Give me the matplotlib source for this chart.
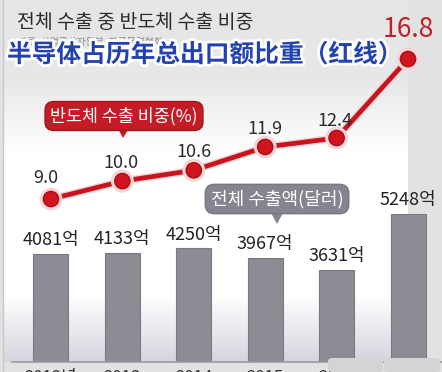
import numpy as np
import matplotlib.pyplot as plt
import matplotlib.patheffects as pe
from matplotlib.patches import Polygon, FancyBboxPatch
from matplotlib.colors import LinearSegmentedColormap

years = ['2012년', '2013', '2014', '2015', '2016', '2017']
exports = [4081, 4133, 4250, 3967, 3631, 5248]          # 억 달러
export_labels = ['4081억', '4133억', '4250억', '3967억', '3631억', '5248억']
share = [9.0, 10.0, 10.6, 11.9, 12.4, 16.8]             # 반도체 비중 (%)

W, H = 442, 372
KR = ['Noto Sans CJK KR', 'DejaVu Sans']


def fx(x):
    return x / W


def fy(y):
    return 1 - y / H


fig = plt.figure(figsize=(W / 100, H / 100), dpi=100, facecolor='#e2e2e2')

# background panel with vertical gradient (gray top -> white -> lavender near baseline)
bg = fig.add_axes([fx(4), fy(362), fx(408 - 4), 362 / H], zorder=0)
cmap = LinearSegmentedColormap.from_list(
    'bg', [(0, '#e6e6e6'), (0.22, '#e8e8e8'), (0.42, '#ffffff'),
           (0.82, '#ffffff'), (1.0, '#d6d5df')])
bg.imshow(np.linspace(0, 1, 200).reshape(-1, 1), aspect='auto', cmap=cmap,
          extent=[0, 1, 1, 0])
bg.set_axis_off()

# bars
ax = fig.add_axes([fx(12), fy(362), fx(W - 12), 362 / H], zorder=1)
ax.patch.set_alpha(0)
x = np.arange(len(years))
ax.bar(x, exports, width=0.49, color='#8d8c95', edgecolor='#7a7982',
       linewidth=0.8)
ax.set_xlim(-0.546, 5.476)
ax.set_ylim(970, 11430)
for xi, v, lab in zip(x, exports, export_labels):
    ax.annotate(lab, (xi, v), xytext=(0, 10), textcoords='offset points',
                ha='center', va='center', fontsize=13, color='#222222',
                family=KR)
ax.set_xticks(x)
ax.set_xticklabels(years, family=KR, fontsize=12, color='#333333')
ax.tick_params(length=0, pad=5)
ax.set_yticks([])
for s in ['top', 'right', 'left']:
    ax.spines[s].set_visible(False)
ax.spines['bottom'].set_color('#9a9aa0')
ax.spines['bottom'].set_linewidth(1.2)

# line for semiconductor share
ax2 = ax.twinx()
ax2.set_ylim(-0.08, 20.09)
ax2.plot(x, share, color='#c8141e', linewidth=3.4, marker='o', markersize=11,
         markerfacecolor='#d0141e', markeredgecolor='#a80f18', markeredgewidth=1,
         path_effects=[pe.Stroke(linewidth=5.5, foreground='#f4d6d8'), pe.Normal()],
         zorder=3)
offsets = [(-4, 15), (-1, 13), (0, 13), (0, 13), (-1, 12)]
for xi, v, off in zip(x[:-1], share[:-1], offsets):
    ax2.annotate(f'{v:.1f}', (xi, v), xytext=off,
                 textcoords='offset points', ha='center', va='center',
                 fontsize=13, color='#2a2a2a', family=KR)
ax2.annotate(f'{share[-1]:.1f}', (x[-1], share[-1]), xytext=(0, 21),
             textcoords='offset points', ha='center', va='center',
             fontsize=19, color='#c0202a', family=KR)
ax2.set_yticks([])
for s in ['top', 'right', 'left', 'bottom']:
    ax2.spines[s].set_visible(False)

# titles
fig.text(fx(17), fy(22), '전체 수출 중 반도체 수출 비중', family=KR, fontsize=14,
         color='#2b2b2b', va='center', ha='left')
fig.text(fx(18), fy(42), '자료: 산업통상자원부, 한국무역협회', family=KR, fontsize=7,
         color='#8a8a8a', va='center', ha='left')
fig.text(fx(7), fy(55), '半导体占历年总出口额比重（红线）',
         family=['Noto Sans CJK SC', 'DejaVu Sans'], fontsize=17.8, weight='heavy',
         color='#2342b0', va='center', ha='left', zorder=5,
         path_effects=[pe.withStroke(linewidth=4, foreground='white')])

# callout boxes
fig.text(fx(124), fy(116), '반도체 수출 비중(%)', family=KR, fontsize=12.5,
         color='white', ha='center', va='center', zorder=6,
         bbox=dict(boxstyle='round,pad=0.3,rounding_size=0.5', fc='#c41c26',
                   ec='#a0141c', lw=1))
fig.add_artist(Polygon([(fx(117), fy(127)), (fx(130), fy(127)), (fx(123), fy(138))],
                       closed=True, fc='#c41c26', ec='none',
                       transform=fig.transFigure, zorder=6))
fig.text(fx(277), fy(199), '전체 수출액(달러)', family=KR, fontsize=13,
         color='white', ha='center', va='center', zorder=6,
         bbox=dict(boxstyle='round,pad=0.3,rounding_size=0.5', fc='#858590',
                   ec='#777780', lw=1))
fig.add_artist(Polygon([(fx(270), fy(211)), (fx(284), fy(211)), (fx(277), fy(224))],
                       closed=True, fc='#858590', ec='none',
                       transform=fig.transFigure, zorder=6))

# left frame line and bottom-right tabs
fig.add_artist(plt.Line2D([fx(3), fx(3)], [fy(0), fy(372)], color='#c8c8c8',
                          lw=1, transform=fig.transFigure))
for x0, x1 in [(328, 383), (384, 440)]:
    fig.add_artist(FancyBboxPatch((fx(x0), fy(372)), fx(x1 - x0), 14 / H,
                                  boxstyle='round,pad=0,rounding_size=0.01',
                                  fc='#d4d4d4', ec='none',
                                  transform=fig.transFigure, zorder=4))

fig.savefig('out.png', dpi=100, facecolor=fig.get_facecolor())
